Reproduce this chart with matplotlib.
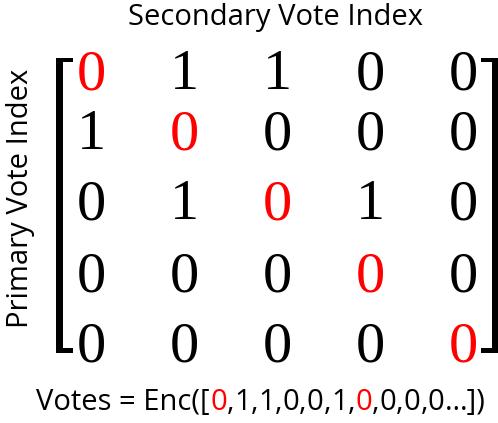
import matplotlib.pyplot as plt
from matplotlib.patches import Rectangle
from matplotlib.offsetbox import TextArea, HPacker, AnchoredOffsetbox

# DATA
matrix = [[0, 1, 1, 0, 0],
          [1, 0, 0, 0, 0],
          [0, 1, 0, 1, 0],
          [0, 0, 0, 0, 0],
          [0, 0, 0, 0, 0]]
n_shown = 10          # number of flattened entries written out in the encoding
title = "Secondary Vote Index"
ylabel = "Primary Vote Index"

RED = "#ff0000"
label_font = "Open Sans"
digit_font = "Liberation Serif"
label_size = 21

# layout (pixels, figure is 498x423 at dpi 100)
W, H = 498, 423
col_x0, col_dx = 91, 93
row_base = [89, 149, 219, 291, 361]

fig = plt.figure(figsize=(W / 100, H / 100), dpi=100)
ax = fig.add_axes([0, 0, 1, 1])
ax.set_xlim(0, W)
ax.set_ylim(H, 0)
ax.axis("off")

# matrix entries, diagonal in red
for i, row in enumerate(matrix):
    for j, v in enumerate(row):
        ax.text(col_x0 + j * col_dx, row_base[i], str(v), fontsize=42,
                family=digit_font, color=RED if i == j else "black",
                ha="center", va="baseline")

# brackets
top, bot = 58, 353
vw, hw, arm = 6.5, 4.5, 17
for x, side in [(56, 1), (491.5, -1)]:
    ax.add_patch(Rectangle((x, top), vw, bot - top, color="black", lw=0))
    hx = x if side == 1 else x + vw - arm
    ax.add_patch(Rectangle((hx, top), arm, hw, color="black", lw=0))
    ax.add_patch(Rectangle((hx, bot - hw), arm, hw, color="black", lw=0))

# axis labels
ax.text(275.5, 25, title, fontsize=label_size, family=label_font,
        ha="center", va="baseline")
ax.text(21, 198, ylabel, fontsize=label_size, family=label_font, rotation=90,
        ha="center", va="center", rotation_mode="anchor")

# encoding line: flattened matrix, diagonal entries in red
flat = [(v, i == j) for i, row in enumerate(matrix) for j, v in enumerate(row)]
parts = [("Votes = Enc([", "black")]
for k, (v, diag) in enumerate(flat[:n_shown]):
    if k > 0:
        parts.append((",", "black"))
    parts.append((str(v), RED if diag else "black"))
parts.append(("\u2026])", "black"))

areas = [TextArea(s, textprops=dict(color=c, fontsize=label_size,
                                    family=label_font))
         for s, c in parts]
pack = HPacker(children=areas, align="baseline", pad=0, sep=0)
box = AnchoredOffsetbox(loc="center", child=pack, frameon=False,
                        bbox_to_anchor=(261 / W, 1 - 402 / H),
                        bbox_transform=fig.transFigure, borderpad=0, pad=0)
ax.add_artist(box)

fig.savefig("out.png", dpi=100)
